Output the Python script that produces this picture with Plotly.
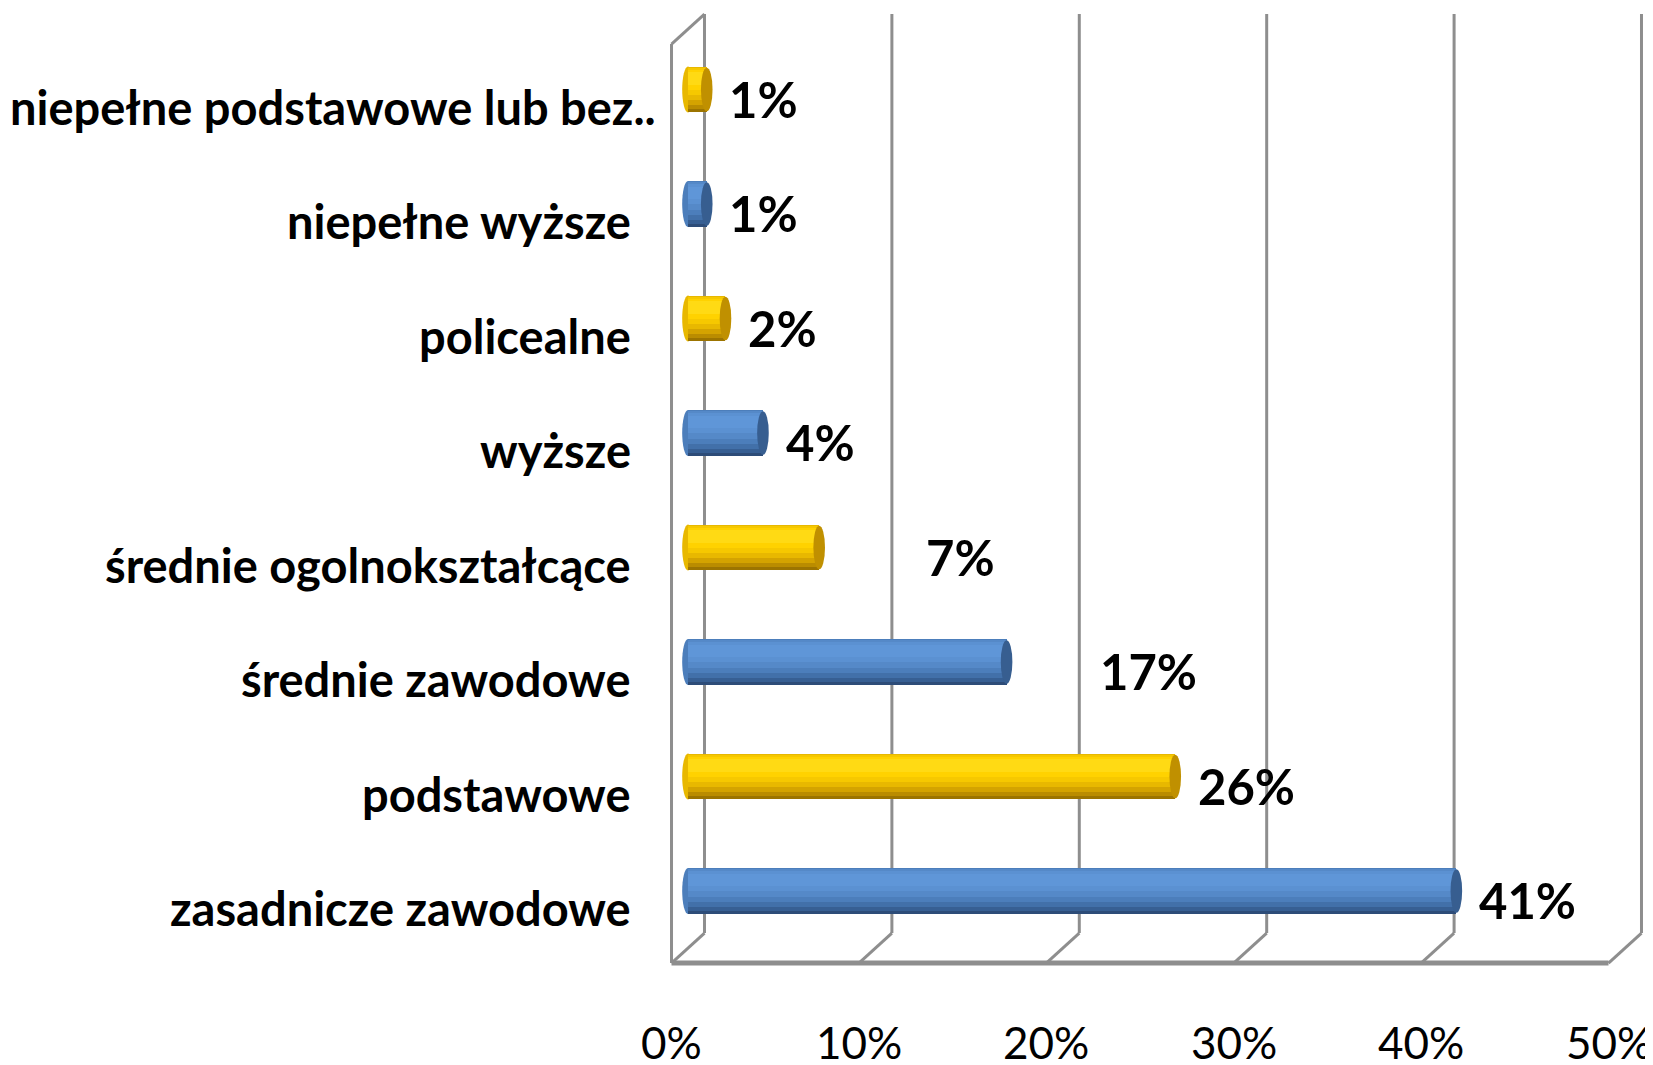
import plotly.graph_objects as go

# ---------------- data ----------------
categories = [
    "zasadnicze zawodowe",
    "podstawowe",
    "średnie zawodowe",
    "średnie ogolnokształcące",
    "wyższe",
    "policealne",
    "niepełne wyższe",
    "niepełne podstawowe lub bez..",
]
values = [41, 26, 17, 7, 4, 2, 1, 1]
value_labels = ["41%", "26%", "17%", "7%", "4%", "2%", "1%", "1%"]
tick_values = [0, 10, 20, 30, 40, 50]
tick_labels = ["0%", "10%", "20%", "30%", "40%", "50%"]

# ---------------- style ----------------
bar_family = ["blue", "gold", "blue", "gold", "blue", "gold", "blue", "gold"]
label_nudge = [0, 0, 3.8, 4.5, 0, 0, 0, 0]  # manual shifts of value labels (x units)

# shading layers: (bottom fraction, top fraction, blue colour, gold colour)
layers = [
    (0.00, 1.00, "#2D4C78", "#9C7400"),
    (0.07, 1.00, "#375F93", "#BA8C00"),
    (0.16, 1.00, "#4270A9", "#D4A300"),
    (0.27, 1.00, "#4C7EBB", "#E8B800"),
    (0.38, 0.97, "#5589C8", "#F6C800"),
    (0.50, 0.93, "#5B91D2", "#FFD200"),
    (0.60, 0.88, "#5F96D8", "#FFDA14"),
]
cap_colour = {"blue": "#375E90", "gold": "#C09000"}
end_colour = {"blue": "#4C7EBB", "gold": "#E8B800"}
grid_colour = "#8E8E8E"
FONT = "Lato, Liberation Sans, sans-serif"

W, H = 1653, 1065
PX0, PXU = 680.0, 18.74      # pixel of value 0 (mid depth), pixels per %
PY0, PYU = 883.0, 114.5      # pixel of first category centre, pixels per category
x_range = [-PX0 / PXU, (W - PX0) / PXU]
y_range = [(PY0 - H) / PYU, PY0 / PYU]

DX = 0.88     # half depth along x (data units)
DY = 0.131    # half depth along y (data units)
T = 0.40      # bar thickness (category units)
R = 0.31      # end cap x radius (data units)
Y_FLOOR = -0.498
Y_TOP = 7.659

pos = list(range(len(categories)))

fig = go.Figure()

for f0, f1, cb, cg in layers:
    fig.add_trace(go.Bar(
        y=pos, x=values, base=0, orientation="h",
        width=T * (f1 - f0), offset=-T / 2 + T * f0,
        marker=dict(color=[cb if f == "blue" else cg for f in bar_family],
                    line=dict(width=0)),
        hoverinfo="skip", showlegend=False,
    ))

shapes = []
line_style = dict(color=grid_colour, width=3)
# back wall gridlines + floor diagonals
for t in tick_values:
    shapes.append(dict(type="line", xref="x", yref="y", layer="below",
                       x0=t + DX, x1=t + DX, y0=Y_FLOOR + DY, y1=Y_TOP, line=line_style))
    shapes.append(dict(type="line", xref="x", yref="y", layer="below",
                       x0=t + DX, x1=t - DX, y0=Y_FLOOR + DY, y1=Y_FLOOR - DY, line=line_style))
# left wall
shapes.append(dict(type="line", xref="x", yref="y", layer="below",
                   x0=-DX, x1=-DX, y0=Y_FLOOR - DY, y1=Y_TOP - 2 * DY, line=line_style))
shapes.append(dict(type="line", xref="x", yref="y", layer="below",
                   x0=-DX, x1=DX, y0=Y_TOP - 2 * DY, y1=Y_TOP, line=line_style))
# front floor edge
shapes.append(dict(type="line", xref="x", yref="y", layer="below",
                   x0=-DX, x1=tick_values[-1] - DX, y0=Y_FLOOR - DY, y1=Y_FLOOR - DY,
                   line=dict(color=grid_colour, width=5)))
# rounded start of each cylinder
for p, fam in zip(pos, bar_family):
    shapes.append(dict(type="circle", xref="x", yref="y", layer="below",
                       x0=-R, x1=R, y0=p - T / 2, y1=p + T / 2,
                       fillcolor=end_colour[fam], line=dict(width=0)))
# end caps
for p, v, fam in zip(pos, values, bar_family):
    shapes.append(dict(type="circle", xref="x", yref="y", layer="above",
                       x0=v - R, x1=v + R, y0=p - T / 2 + 0.01, y1=p + T / 2 - 0.01,
                       fillcolor=cap_colour[fam], line=dict(width=0)))

annotations = []
# category labels
for p, c in zip(pos, categories):
    long_label = c.endswith("..")
    annotations.append(dict(x=-1.67 if long_label else -3.0, y=p - 0.15, xref="x", yref="y",
                            text=c, showarrow=False, xanchor="right", yanchor="middle",
                            borderpad=0,
                            font=dict(family=FONT, size=47, color="#000000", weight="bold")))
# value labels
for p, v, lab, n in zip(pos, values, value_labels, label_nudge):
    annotations.append(dict(x=v + 1.1 + n, y=p - 0.08, xref="x", yref="y", text=lab,
                            showarrow=False, xanchor="left", yanchor="middle",
                            font=dict(family=FONT, size=49, color="#000000", weight="bold")))
# x tick labels
for t, lab in zip(tick_values, tick_labels):
    annotations.append(dict(x=t - DX, y=(PY0 - 1034) / PYU, xref="x", yref="y", text=lab,
                            showarrow=False, xanchor="center", yanchor="middle",
                            borderpad=0,
                            font=dict(family=FONT, size=44, color="#000000")))

fig.update_layout(
    width=W, height=H,
    margin=dict(l=0, r=0, t=0, b=0),
    paper_bgcolor="white", plot_bgcolor="white",
    barmode="overlay", bargap=0,
    xaxis=dict(range=x_range, visible=False, fixedrange=True),
    yaxis=dict(range=y_range, visible=False, fixedrange=True),
    shapes=shapes, annotations=annotations,
    showlegend=False,
)

fig.write_html("out.html")
